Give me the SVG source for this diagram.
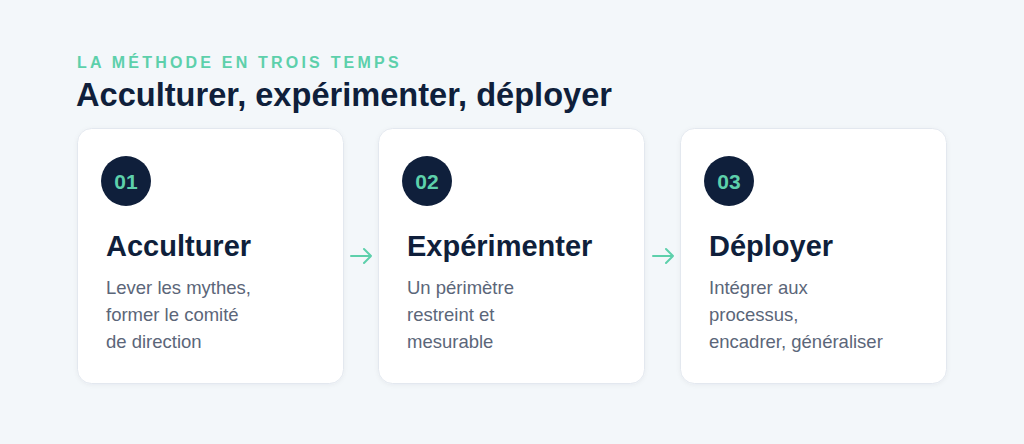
<svg xmlns="http://www.w3.org/2000/svg" width="1024" height="444" viewBox="0 0 1024 444">
<defs>
<style>
.card{fill:#ffffff;stroke:#e3e8ef;stroke-width:1}
.num{fill:#0f1f3b}
.numt{font-family:"Liberation Sans",Arial,sans-serif;font-weight:bold;font-size:21px;fill:#5dd0ab;text-anchor:middle}
.ttl{font-family:"Liberation Sans",Arial,sans-serif;font-weight:bold;font-size:29px;fill:#0f1f3b}
.body{font-family:"Liberation Sans",Arial,sans-serif;font-size:18.5px;fill:#5b6679}
.arr{stroke:#5dd0ab;stroke-width:2;fill:none;stroke-linecap:round;stroke-linejoin:round}
</style>
<filter id="sh" x="-10%" y="-10%" width="120%" height="120%">
<feDropShadow dx="0" dy="1" stdDeviation="2" flood-color="#0f1f3b" flood-opacity="0.05"/>
</filter>
</defs>
<rect width="1024" height="444" fill="#f3f7fa"/>
<text x="77" y="68" font-family="'Liberation Sans',Arial,sans-serif" font-weight="bold" font-size="16" letter-spacing="3.2" fill="#5dd0ab">LA MÉTHODE EN TROIS TEMPS</text>
<text x="76" y="106" font-family="'Liberation Sans',Arial,sans-serif" font-weight="bold" font-size="32.6" fill="#0f1f3b">Acculturer, expérimenter, déployer</text>
<g id="step1">
<rect class="card" x="77.5" y="128.5" width="266" height="255" rx="14" filter="url(#sh)"/>
<circle class="num" cx="126" cy="181" r="25"/>
<text class="numt" x="126" y="188.5">01</text>
<text class="ttl" x="106" y="256">Acculturer</text>
<text class="body" x="106" y="294">Lever les mythes,</text>
<text class="body" x="106" y="321">former le comité</text>
<text class="body" x="106" y="348">de direction</text>
</g>
<g id="step2">
<rect class="card" x="378.5" y="128.5" width="266" height="255" rx="14" filter="url(#sh)"/>
<circle class="num" cx="427" cy="181" r="25"/>
<text class="numt" x="427" y="188.5">02</text>
<text class="ttl" x="407" y="256">Expérimenter</text>
<text class="body" x="407" y="294">Un périmètre</text>
<text class="body" x="407" y="321">restreint et</text>
<text class="body" x="407" y="348">mesurable</text>
</g>
<g id="step3">
<rect class="card" x="680.5" y="128.5" width="266" height="255" rx="14" filter="url(#sh)"/>
<circle class="num" cx="729" cy="181" r="25"/>
<text class="numt" x="729" y="188.5">03</text>
<text class="ttl" x="709" y="256">Déployer</text>
<text class="body" x="709" y="294">Intégrer aux</text>
<text class="body" x="709" y="321">processus,</text>
<text class="body" x="709" y="348">encadrer, généraliser</text>
</g>
<g id="connectors">
<path class="arr" d="M351 256H371M364 249L371 256L364 263"/>
<path class="arr" d="M653 256H673M666 249L673 256L666 263"/>
</g>
</svg>
